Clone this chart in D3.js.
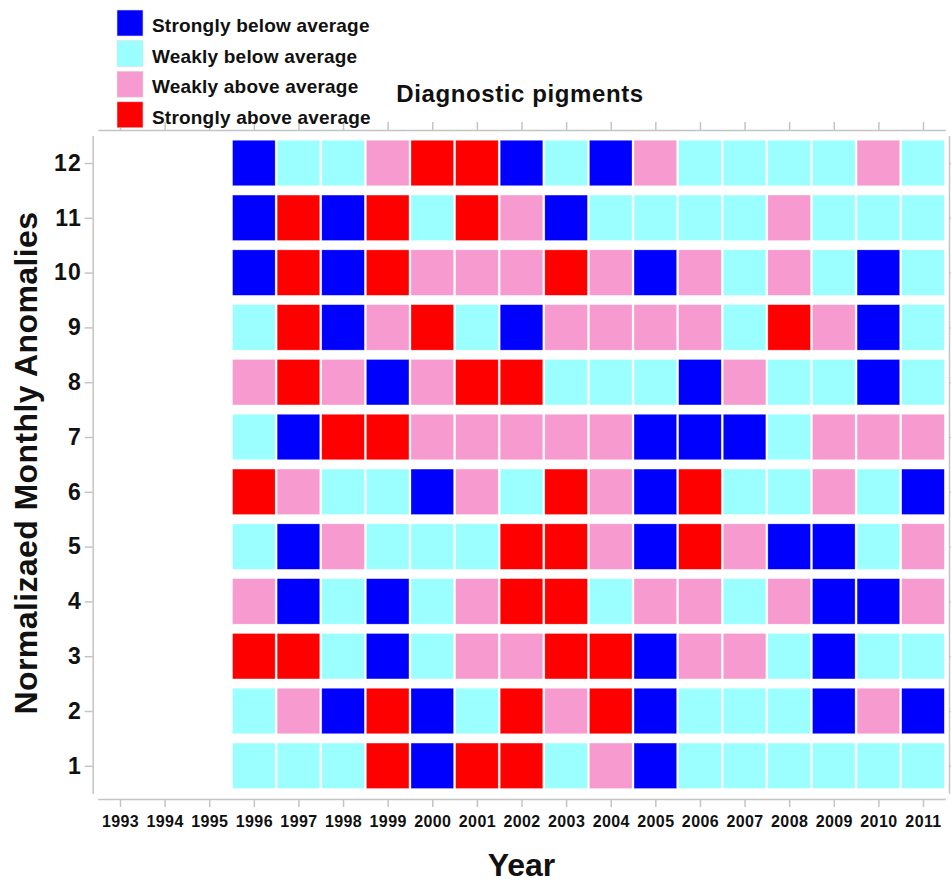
<!DOCTYPE html>
<html>
<head>
<meta charset="utf-8">
<script src="https://cdn.jsdelivr.net/npm/d3@7"></script>
<style>
  html, body { margin: 0; padding: 0; background: #fff; }
  svg { display: block; font-family: Arial, "Liberation Sans", Helvetica, sans-serif; }
  .axis path, .axis line { stroke: #c4c4c4; stroke-width: 1.5; }
  .axis text { fill: #111; font-weight: bold; }
</style>
</head>
<body>
<svg id="chart" width="951" height="887"></svg>
<script>
// ---------------- data ----------------
const years = [1993, 1994, 1995, 1996, 1997, 1998, 1999, 2000, 2001, 2002, 2003, 2004, 2005, 2006, 2007, 2008, 2009, 2010, 2011];
const dataYears = [1996, 1997, 1998, 1999, 2000, 2001, 2002, 2003, 2004, 2005, 2006, 2007, 2008, 2009, 2010, 2011];
const months = [1, 2, 3, 4, 5, 6, 7, 8, 9, 10, 11, 12];
const classLabels = ["Strongly below average", "Weakly below average", "Weakly above average", "Strongly above average"];
const classColors = ["#0000ff", "#9cffff", "#f79acf", "#ff0000"];
// codes: 0 strongly below, 1 weakly below, 2 weakly above, 3 strongly above (years 1996..2011)
const month1  = [1, 1, 1, 3, 0, 3, 3, 1, 2, 0, 1, 1, 1, 1, 1, 1];
const month2  = [1, 2, 0, 3, 0, 1, 3, 2, 3, 0, 1, 1, 1, 0, 2, 0];
const month3  = [3, 3, 1, 0, 1, 2, 2, 3, 3, 0, 2, 2, 1, 0, 1, 1];
const month4  = [2, 0, 1, 0, 1, 2, 3, 3, 1, 2, 2, 1, 2, 0, 0, 2];
const month5  = [1, 0, 2, 1, 1, 1, 3, 3, 2, 0, 3, 2, 0, 0, 1, 2];
const month6  = [3, 2, 1, 1, 0, 2, 1, 3, 2, 0, 3, 1, 1, 2, 1, 0];
const month7  = [1, 0, 3, 3, 2, 2, 2, 2, 2, 0, 0, 0, 1, 2, 2, 2];
const month8  = [2, 3, 2, 0, 2, 3, 3, 1, 1, 1, 0, 2, 1, 1, 0, 1];
const month9  = [1, 3, 0, 2, 3, 1, 0, 2, 2, 2, 2, 1, 3, 2, 0, 1];
const month10 = [0, 3, 0, 3, 2, 2, 2, 3, 2, 0, 2, 1, 2, 1, 0, 1];
const month11 = [0, 3, 0, 3, 1, 3, 2, 0, 1, 1, 1, 1, 2, 1, 1, 1];
const month12 = [0, 1, 1, 2, 3, 3, 0, 1, 0, 2, 1, 1, 1, 1, 2, 1];
const monthRows = [month1, month2, month3, month4, month5, month6, month7, month8, month9, month10, month11, month12];

// ---------------- build ----------------
const svg = d3.select("#chart");

const x = d3.scaleLinear().domain([1992.5, 2011.5]).range([97.7, 945.3]);
const y = d3.scaleLinear().domain([0.5, 12.5]).range([793.2, 135.6]);
const xStep = x(1) - x(0);
const yStep = y(0) - y(1);
const color = d3.scaleOrdinal().domain([0, 1, 2, 3]).range(classColors);

const cells = [];
monthRows.forEach((row, mi) => {
  row.forEach((code, yi) => {
    cells.push({ year: dataYears[yi], month: months[mi], code });
  });
});

const cw = xStep - 2;
const ch = yStep * 0.83;

svg.append("g").selectAll("rect")
  .data(cells)
  .enter().append("rect")
  .attr("x", d => x(d.year) - cw / 2)
  .attr("y", d => y(d.month) - ch / 2)
  .attr("width", cw)
  .attr("height", ch)
  .attr("fill", d => color(d.code))
  .attr("stroke", "#ffffff")
  .attr("stroke-opacity", 0.5)
  .attr("stroke-width", 0.6);

// axes
const gBottom = svg.append("g").attr("class", "axis")
  .attr("transform", "translate(0,799)")
  .call(d3.axisBottom(x).tickValues(years).tickFormat(d3.format("d")).tickSize(8).tickSizeOuter(0).tickPadding(9));
gBottom.selectAll("text").style("font-size", "16px").style("letter-spacing", "0.4px");

svg.append("g").attr("class", "axis")
  .attr("transform", "translate(0,130)")
  .call(d3.axisTop(x).tickValues(years).tickFormat("").tickSize(8).tickSizeOuter(0));

const gLeft = svg.append("g").attr("class", "axis")
  .attr("transform", "translate(92.7,0)")
  .call(d3.axisLeft(y).tickValues(months).tickFormat(d3.format("d")).tickSize(8).tickSizeOuter(0).tickPadding(3));
gLeft.selectAll("text").style("font-size", "23px").style("letter-spacing", "1px");

svg.append("g").attr("class", "axis")
  .attr("transform", "translate(949,0)")
  .call(d3.axisRight(y).tickValues(months).tickFormat("").tickSize(8).tickSizeOuter(0));

// titles
svg.append("text")
  .attr("x", 520).attr("y", 102)
  .attr("text-anchor", "middle")
  .style("font-size", "24px").style("font-weight", "bold").style("letter-spacing", "0.6px").attr("fill", "#111")
  .text("Diagnostic pigments");

svg.append("text")
  .attr("x", 521.5).attr("y", 876)
  .attr("text-anchor", "middle")
  .style("font-size", "32px").style("font-weight", "bold").attr("fill", "#111")
  .text("Year");

svg.append("text")
  .attr("transform", "translate(37,463) rotate(-90)")
  .attr("text-anchor", "middle")
  .style("font-size", "32px").style("font-weight", "bold").style("letter-spacing", "0.4px").attr("fill", "#111")
  .text("Normalizaed Monthly Anomalies");

// legend
const legend = svg.append("g").attr("transform", "translate(117,10)");
const lg = legend.selectAll("g").data(classLabels).enter().append("g")
  .attr("transform", (d, i) => `translate(0,${i * 30.6})`);
lg.append("rect")
  .attr("width", 26).attr("height", 26)
  .attr("fill", (d, i) => classColors[i])
  .attr("stroke", "#ddd").attr("stroke-width", 0.6);
lg.append("text")
  .attr("x", 35).attr("y", 22)
  .style("font-size", "19px").style("font-weight", "bold").style("letter-spacing", "0.2px").attr("fill", "#111")
  .text(d => d);
</script>
</body>
</html>
